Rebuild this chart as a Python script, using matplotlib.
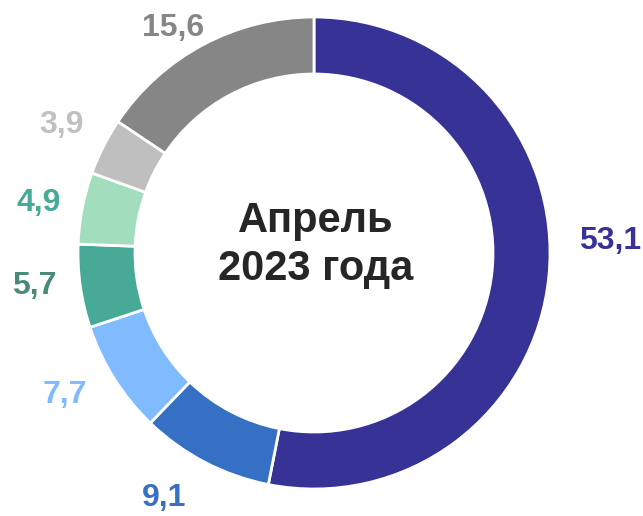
import numpy as np
import matplotlib
matplotlib.use("Agg")
import matplotlib.pyplot as plt

plt.rcParams['font.family'] = ['Liberation Sans', 'DejaVu Sans']

values = [53.1, 9.1, 7.7, 5.7, 4.9, 3.9, 15.6]
labels = ["53,1", "9,1", "7,7", "5,7", "4,9", "3,9", "15,6"]
colors = ["#373296", "#3570C4", "#80BBFF", "#46AA96", "#A2DDBE", "#BFBFBF", "#868686"]
label_colors = ["#373296", "#3570C4", "#80BBFF", "#4A8A78", "#46AA96", "#C0C0C0", "#868686"]
center_title = "Апрель\n2023 года"

# label placement style (distance factor and angle nudge, degrees)
label_dist = [1.254, 1.216, 1.216, 1.195, 1.186, 1.2, 1.127]
label_nudge = [8.0, -4.0, -2.5, -1.4, 0.7, 0.0, 4.0]

W, H = 643, 516
fig = plt.figure(figsize=(W / 100, H / 100), dpi=100)
ax = fig.add_axes([0, 0, 1, 1])

cx, cy = 314, H - 253
R = 236
width = 57

wedges, _ = ax.pie(values, colors=colors, startangle=90, counterclock=False,
                   center=(cx, cy), radius=R, frame=True,
                   wedgeprops=dict(width=width, edgecolor='white', linewidth=2))
ax.set_xlim(0, W)
ax.set_ylim(0, H)
ax.set_aspect('equal')
ax.axis('off')

for w, lab, lc, d, nd in zip(wedges, labels, label_colors, label_dist, label_nudge):
    mid = (w.theta1 + w.theta2) / 2 + nd
    r = R * d
    x = cx + r * np.cos(np.radians(mid))
    y = cy + r * np.sin(np.radians(mid))
    ax.text(x, y, lab, ha='center', va='center', fontsize=23,
            fontweight='bold', color=lc)

ax.text(cx + 2, cy + 8, center_title, ha='center', va='center', fontsize=30,
        fontweight='bold', color='#262626', linespacing=1.25)

fig.savefig("out.png", dpi=100)
